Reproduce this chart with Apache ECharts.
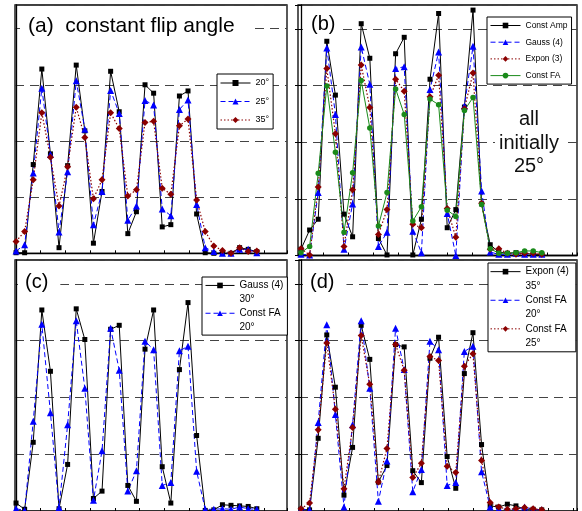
<!DOCTYPE html>
<html>
<head>
<meta charset="utf-8">
<script src="https://cdn.jsdelivr.net/npm/echarts@6/dist/echarts.min.js"></script>
<style>
  html, body { margin: 0; padding: 0; background: #fff; }
  #chart { width: 582px; height: 511px; }
</style>
</head>
<body>
<div id="chart"></div>
<script>
// echo index along the train, shared by all four panels
const samples = [0,1,2,3,4,5,6,7,8,9,10,11,12,13,14,15,16,17,18,19,20,21,22,23,24,25,26,27,28];

// (a) constant flip angle
const a20 = [0.01,0.01,1.58,3.28,1.77,0.10,1.56,3.35,2.18,0.18,1.10,3.24,2.52,0.35,0.74,3.00,2.85,0.47,0.51,2.80,2.89,0.70,0.01,0.00,0.00,0.00,0.10,0.07,0.03];
const a25 = [0.04,0.15,1.43,2.94,1.76,0.38,1.45,3.07,2.21,0.51,1.10,2.90,2.49,0.59,0.84,2.72,2.64,0.79,0.67,2.56,2.73,0.87,0.10,0.03,0.00,0.00,0.07,0.07,0.01];
const a35 = [0.21,0.39,1.31,2.50,1.71,0.84,1.54,2.60,2.06,0.97,1.31,2.50,2.22,1.02,1.13,2.33,2.35,1.16,1.05,2.27,2.39,0.95,0.39,0.13,0.05,0.00,0.10,0.03,0.04];

// (b) all initially 25 deg
const bConstAmp = [0.11,0.45,0.64,3.78,2.83,0.73,0.33,4.09,3.48,0.30,0.01,3.56,3.85,0.01,0.64,3.11,4.27,0.49,0.81,2.62,4.33,0.91,0.19,0.06,0.04,0.05,0.04,0.02,0.02];
const bGauss4 = [0.02,0.01,1.11,3.66,2.49,0.11,0.91,3.68,3.02,0.16,0.41,3.30,3.33,0.43,0.05,2.93,3.59,0.74,0.00,2.64,3.69,1.14,0.06,0.02,0.02,0.04,0.02,0.02,0.02];
const bExpon3 = [0.12,0.01,1.21,3.30,2.15,0.16,1.16,3.36,2.61,0.37,0.81,3.11,2.90,0.55,0.49,2.80,3.18,0.83,0.32,2.59,3.22,0.92,0.11,0.12,0.04,0.02,0.04,0.04,0.02];
const bConstFA = [0.05,0.16,1.45,2.99,1.82,0.41,1.46,3.09,2.25,0.52,1.11,2.94,2.49,0.61,0.86,2.76,2.66,0.80,0.69,2.56,2.79,0.90,0.12,0.04,0.04,0.05,0.08,0.08,0.05];

// (c)
const cGauss30 = [0.14,0.03,1.21,3.54,2.46,0.04,0.82,3.56,3.02,0.22,0.35,3.20,3.27,0.45,0.17,2.85,3.54,0.78,0.14,2.49,3.67,1.33,0.01,0.02,0.11,0.10,0.09,0.08,0.04];
const cConstFA20 = [0.04,0.01,1.58,3.29,1.73,0.06,1.52,3.35,2.16,0.19,1.06,3.22,2.48,0.35,0.71,2.99,2.84,0.45,0.50,2.82,2.90,0.70,0.03,0.03,0.04,0.03,0.07,0.04,0.03];

// (d)
const dExpon35 = [0.03,0.02,1.28,3.10,2.18,0.28,1.12,3.27,2.67,0.51,0.80,2.93,2.89,0.71,0.50,2.69,3.06,0.96,0.40,2.42,3.14,1.17,0.09,0.07,0.12,0.09,0.03,0.03,0.02];
const dConstFA20 = [0.03,0.02,1.56,3.28,1.70,0.07,1.52,3.35,2.16,0.17,0.88,3.22,2.49,0.34,0.73,2.99,2.84,0.45,0.50,2.81,2.90,0.69,0.07,0.04,0.03,0.03,0.07,0.03,0.02];
const dConstFA25 = [0.04,0.14,1.43,2.96,1.79,0.39,1.47,3.09,2.23,0.51,1.10,2.93,2.48,0.59,0.84,2.72,2.65,0.79,0.68,2.55,2.77,0.89,0.15,0.07,0.03,0.04,0.06,0.04,0.02];

// legend labels (keys are the series names)
const legendText = {
  a20: '20°', a25: '25°', a35: '35°',
  bAmp: 'Const Amp', bGauss: 'Gauss (4)', bExpon: 'Expon (3)', bFA: 'Const FA',
  cGauss: 'Gauss (4)', cDeg1: '30°', cFA: 'Const FA', cDeg2: '20°',
  dExpon: 'Expon (4)', dDeg1: '35°', dFA20: 'Const FA', dDeg2: '20°', dFA25: 'Const FA', dDeg3: '25°'
};

const FONT = '"Liberation Sans", Arial, Helvetica, sans-serif';

const BLACK = { color: '#000', symbol: 'rect', size: 5, type: 'solid', width: 1 };
const BLUE = { color: '#0000ff', symbol: 'triangle', size: 7, type: [5, 3], width: 1 };
const BROWN = { color: '#8b0000', symbol: 'diamond', size: 7, type: [1.5, 2], width: 1.2 };
const GREEN = { color: '#1a8a1a', symbol: 'circle', size: 5.5, type: 'solid', width: 1 };

function lineSeries(name, values, gi, st) {
  return {
    type: 'line', name: name, xAxisIndex: gi, yAxisIndex: gi,
    data: samples.map((s, i) => [s, values[i]]),
    symbol: st.symbol, symbolSize: st.size,
    lineStyle: { color: st.color, width: st.width, type: st.type },
    itemStyle: { color: st.color },
    animation: false, silent: true
  };
}
// empty series that only gives a legend row for the second text line
function labelRow(name, gi) {
  return { type: 'line', name: name, xAxisIndex: gi, yAxisIndex: gi, data: [], animation: false };
}

const grids = [
  { left: 15, top: 5, width: 272, height: 248.3 },
  { left: 298, top: 5, width: 279, height: 250.5 },
  { left: 15, top: 260, width: 272, height: 252.5 },
  { left: 299, top: 260, width: 278, height: 252.5 }
].map(g => Object.assign(g, { show: true, borderColor: '#000', borderWidth: 1.3, backgroundColor: 'transparent' }));

const xMin = [-0.12, -0.35, -0.12, -0.23];
const xMax = [31.51, 32.09, 31.51, 32.1];

const xAxes = grids.map((g, i) => ({
  gridIndex: i, type: 'value', min: xMin[i], max: xMax[i], interval: 2.9,
  axisLabel: { show: false },
  axisLine: { show: true, onZero: false, lineStyle: { color: '#000', width: 1.3 } },
  axisTick: { show: true, inside: true, length: 3, lineStyle: { color: '#000' } },
  splitLine: { show: false }
}));
const yAxes = grids.map((g, i) => ({
  gridIndex: i, type: 'value', min: 0, max: 4.42, interval: 1,
  axisLabel: { show: false },
  axisLine: { show: true, lineStyle: { color: '#000', width: 1.3 } },
  axisTick: { show: i % 2 === 1, inside: false, length: 6, lineStyle: { color: '#000' } },
  splitLine: { show: true, lineStyle: { color: '#444', width: 1, type: [9, 6] } }
}));

function legendBox(o) {
  return Object.assign({
    orient: 'vertical', selectedMode: false, itemGap: 0,
    borderColor: '#000', borderWidth: 1, backgroundColor: '#fff', borderRadius: 0,
    formatter: name => legendText[name],
    lineStyle: { width: 1 },
    textStyle: { fontFamily: FONT, color: '#000' }
  }, o);
}

const titleStyle = (size) => ({ fontSize: size, fontWeight: 'normal', fontFamily: FONT, color: '#000' });

const option = {
  animation: false,
  grid: grids,
  xAxis: xAxes,
  yAxis: yAxes,
  title: [
    { text: '(a)  constant flip angle', left: 20, top: 14, padding: [2, 20, 2, 8], backgroundColor: '#fff', textStyle: titleStyle(21) },
    { text: '(b)', left: 303, top: 12, padding: [2, 5, 2, 8], backgroundColor: '#fff', textStyle: titleStyle(20) },
    { text: '(c)', left: 18, top: 270, padding: [2, 12, 2, 7], backgroundColor: '#fff', textStyle: titleStyle(20) },
    { text: '(d)', left: 303, top: 270, padding: [2, 12, 2, 7], backgroundColor: '#fff', textStyle: titleStyle(20) }
  ],
  legend: [
    legendBox({ left: 217, top: 74, padding: [3.5, 4, 3.5, 3], itemWidth: 30, itemHeight: 7.5, itemGap: 7.5,
      data: ['a20', 'a25', 'a35'], textStyle: { fontFamily: FONT, color: '#000', fontSize: 9, lineHeight: 11 } }),
    legendBox({ left: 487, top: 17, padding: [3, 4, 3, 3], itemWidth: 30, itemHeight: 7, itemGap: 5.7,
      data: ['bAmp', 'bGauss', 'bExpon', 'bFA'], textStyle: { fontFamily: FONT, color: '#000', fontSize: 8.5, lineHeight: 11 } }),
    legendBox({ left: 202, top: 277, padding: [1.5, 4, 1, 3], itemWidth: 29, itemHeight: 7,
      data: [{ name: 'cGauss' }, { name: 'cDeg1', icon: 'none' }, { name: 'cFA' }, { name: 'cDeg2', icon: 'none' }],
      textStyle: { fontFamily: FONT, color: '#000', fontSize: 10, lineHeight: 13.9 } }),
    legendBox({ left: 488, top: 263, padding: [1.5, 7, 1.5, 2], itemWidth: 30, itemHeight: 7,
      data: [{ name: 'dExpon' }, { name: 'dDeg1', icon: 'none' }, { name: 'dFA20' }, { name: 'dDeg2', icon: 'none' }, { name: 'dFA25' }, { name: 'dDeg3', icon: 'none' }],
      textStyle: { fontFamily: FONT, color: '#000', fontSize: 10, lineHeight: 14.3 } })
  ],
  graphic: [
    { type: 'text', x: 529, y: 108, z: 10,
      style: { text: 'all\ninitially\n25°', align: 'center', verticalAlign: 'top', fontSize: 20, fontFamily: FONT,
        lineHeight: 23.5, fill: '#111', backgroundColor: '#fff', padding: [0, 4] } }
  ],
  series: [
    lineSeries('a20', a20, 0, BLACK),
    lineSeries('a25', a25, 0, BLUE),
    lineSeries('a35', a35, 0, BROWN),

    lineSeries('bAmp', bConstAmp, 1, BLACK),
    lineSeries('bGauss', bGauss4, 1, BLUE),
    lineSeries('bExpon', bExpon3, 1, BROWN),
    lineSeries('bFA', bConstFA, 1, GREEN),

    lineSeries('cGauss', cGauss30, 2, BLACK),
    labelRow('cDeg1', 2),
    lineSeries('cFA', cConstFA20, 2, BLUE),
    labelRow('cDeg2', 2),

    lineSeries('dExpon', dExpon35, 3, BLACK),
    labelRow('dDeg1', 3),
    lineSeries('dFA20', dConstFA20, 3, BLUE),
    labelRow('dDeg2', 3),
    lineSeries('dFA25', dConstFA25, 3, BROWN),
    labelRow('dDeg3', 3)
  ]
};

const chart = echarts.init(document.getElementById('chart'), null, { renderer: 'canvas', width: 582, height: 511 });
chart.setOption(option);
</script>
</body>
</html>
